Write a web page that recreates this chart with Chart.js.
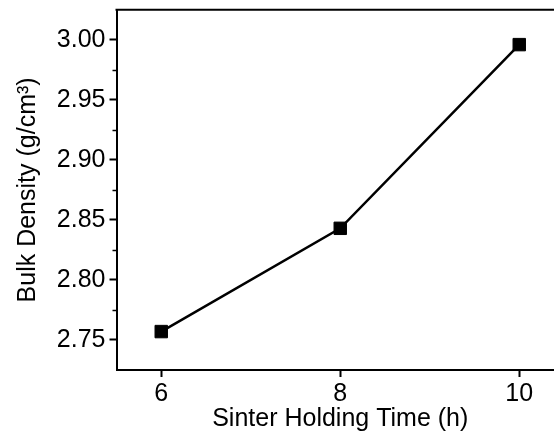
<!DOCTYPE html>
<html>
<head>
<meta charset="utf-8">
<script src="https://cdn.jsdelivr.net/npm/chart.js@4/dist/chart.umd.min.js"></script>
<style>
html,body{margin:0;padding:0;background:#fff;overflow:hidden;width:554px;height:434px;}
#wrap{position:absolute;left:0;top:0;width:580px;height:434px;}
</style>
</head>
<body>
<div id="wrap"><canvas id="c"></canvas></div>
<script>
const holdingTime = [6, 8, 10];
const bulkDensity = [2.757, 2.843, 2.996];
const xTicks = [6, 8, 10];
const yTicks = [2.75, 2.80, 2.85, 2.90, 2.95, 3.00];
const yMinorTicks = [2.775, 2.825, 2.875, 2.925, 2.975];
const xTitle = 'Sinter Holding Time (h)';
const yTitle = 'Bulk Density (g/cm\u00B3)';

const FONT = '"Liberation Sans", Arial, sans-serif';

const framePlugin = {
  id: 'frame',
  afterDraw(chart) {
    const ctx = chart.ctx, a = chart.chartArea, y = chart.scales.y;
    ctx.save();
    ctx.strokeStyle = '#000';
    ctx.lineWidth = 2;
    ctx.beginPath();
    ctx.moveTo(a.left - 1, a.top);
    ctx.lineTo(a.right + 1, a.top);
    ctx.stroke();
    ctx.lineWidth = 1.5;
    yMinorTicks.forEach(v => {
      const p = Math.round(y.getPixelForValue(v)) + 0.5;
      ctx.beginPath();
      ctx.moveTo(a.left - 4, p);
      ctx.lineTo(a.left, p);
      ctx.stroke();
    });
    ctx.restore();
  }
};

new Chart(document.getElementById('c'), {
  type: 'scatter',
  data: {
    datasets: [{
      data: holdingTime.map((x, i) => ({x: x, y: bulkDensity[i]})),
      showLine: true,
      borderColor: '#000',
      borderWidth: 2.5,
      backgroundColor: '#000',
      pointStyle: 'rect',
      pointRadius: 8.8,
      pointBorderWidth: 1,
      pointBorderColor: '#000',
      pointBackgroundColor: '#000',
      clip: false
    }]
  },
  options: {
    responsive: true,
    maintainAspectRatio: false,
    animation: false,
    events: [],
    layout: {padding: {top: 9.5, right: 16, left: 0, bottom: 0}},
    plugins: {legend: {display: false}, tooltip: {enabled: false}},
    scales: {
      x: {
        type: 'linear',
        min: 5.5, max: 10.5,
        afterBuildTicks: s => { s.ticks = xTicks.map(v => ({value: v})); },
        afterFit: s => { s.height = 64; s.paddingLeft = 0; s.paddingRight = 0; },
        border: {display: true, color: '#000', width: 2},
        grid: {drawOnChartArea: false, drawTicks: true, tickLength: 7, tickColor: '#000', tickWidth: 2},
        ticks: {color: '#000', font: {family: FONT, size: 25}, padding: 2, maxRotation: 0,
                callback: v => String(v)},
        title: {display: true, text: xTitle, color: '#000', font: {family: FONT, size: 25}, padding: {top: -3, bottom: 0}}
      },
      y: {
        type: 'linear',
        min: 2.725, max: 3.025,
        afterBuildTicks: s => { s.ticks = yTicks.map(v => ({value: v})); },
        afterFit: s => { s.width = 116.5; s.paddingTop = 0; s.paddingBottom = 0; },
        border: {display: true, color: '#000', width: 2},
        grid: {drawOnChartArea: false, drawTicks: true, tickLength: 7, tickColor: '#000', tickWidth: 2},
        ticks: {color: '#000', font: {family: FONT, size: 25}, padding: 4,
                callback: v => Number(v).toFixed(2)},
        title: {display: true, text: yTitle, color: '#000', font: {family: FONT, size: 25}, padding: {top: 13, bottom: 0}}
      }
    }
  },
  plugins: [framePlugin]
});
</script>
</body>
</html>
